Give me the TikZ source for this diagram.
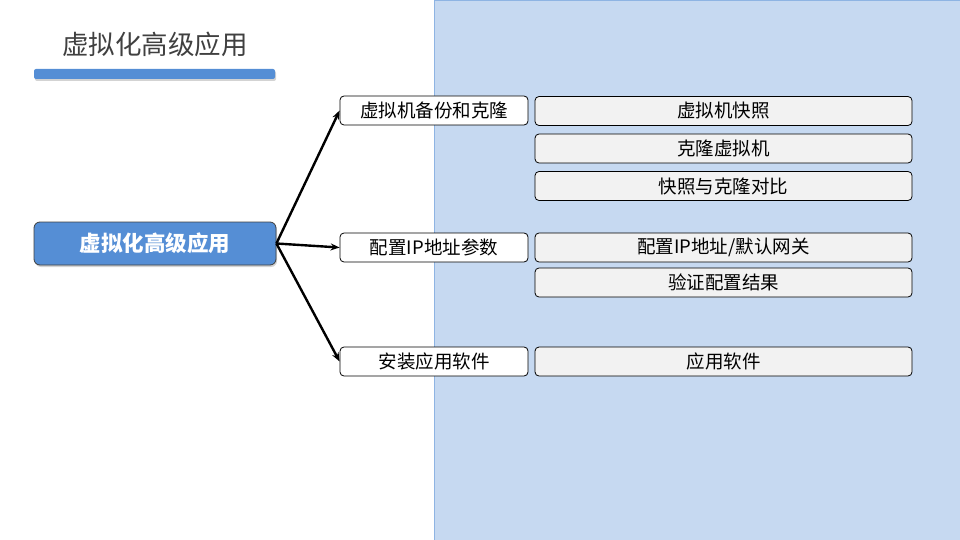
\documentclass[tikz,border=0pt]{standalone}
\usepackage{fontspec}
\setmainfont{Noto Sans CJK SC}
\usetikzlibrary{arrows.meta,positioning,shadows}
\definecolor{Panel}{HTML}{C6D9F1}
\definecolor{PanelEdge}{HTML}{8EB4E3}
\definecolor{Accent}{HTML}{558ED5}
\definecolor{Ink}{HTML}{404040}
\definecolor{Leaf}{HTML}{F2F2F2}
\newcommand{\LeafBox}[3]{%
  \node[leafbox] (#1) at (723.5,#2) {#3};%
}

\begin{document}
\begin{tikzpicture}[x=1pt,y=-1pt,
  topicbox/.style={draw=black,line width=0.8pt,fill=white,rounded corners=4pt,
    minimum width=188pt,minimum height=29pt,inner sep=0pt,font=\fontsize{18.5}{20}\selectfont},
  leafbox/.style={draw=black,line width=0.8pt,fill=Leaf,rounded corners=4pt,
    minimum width=377pt,minimum height=29pt,inner sep=0pt,font=\fontsize{18.5}{20}\selectfont},
  link/.style={line width=2.4pt,-{Stealth[length=9pt,width=7pt]}}]
\useasboundingbox (0,0) rectangle (960,540);
% right panel
\fill[Panel] (434,0) rectangle (960,540);
\draw[PanelEdge,line width=0.8pt] (434,540) -- (434,0) -- (960,0);
% title
\node[text=Ink,font=\fontsize{26.5}{28}\selectfont] (title) at (155,44) {虚拟化高级应用};
\fill[Accent,rounded corners=2pt,drop shadow={shadow xshift=1pt,shadow yshift=-2pt,opacity=0.35}] (34,69) rectangle (275,79);
% root
\node[fill=Accent,draw=Ink,line width=0.8pt,rounded corners=6pt,minimum width=242pt,minimum height=43pt,
  text=white,font=\fontsize{21.5}{23}\selectfont\bfseries,
  drop shadow={shadow xshift=1pt,shadow yshift=-2pt,opacity=0.35}] (root) at (155,243.5) {虚拟化高级应用};
% topics
\node[topicbox] (backup) at (434,110.5) {虚拟机备份和克隆};
\node[topicbox] (ipconf) at (434,247.5) {配置IP地址参数};
\node[topicbox] (install) at (434,361.5) {安装应用软件};
\foreach \t in {backup,ipconf,install}
  \draw[link] (root.east) -- (\t.west);
% details
\LeafBox{snap}{111}{虚拟机快照}
\LeafBox{clone}{148.5}{克隆虚拟机}
\LeafBox{compare}{186}{快照与克隆对比}
\LeafBox{setip}{247.5}{配置IP地址/默认网关}
\LeafBox{verify}{282.5}{验证配置结果}
\LeafBox{apps}{361.5}{应用软件}
\end{tikzpicture}
\end{document}
